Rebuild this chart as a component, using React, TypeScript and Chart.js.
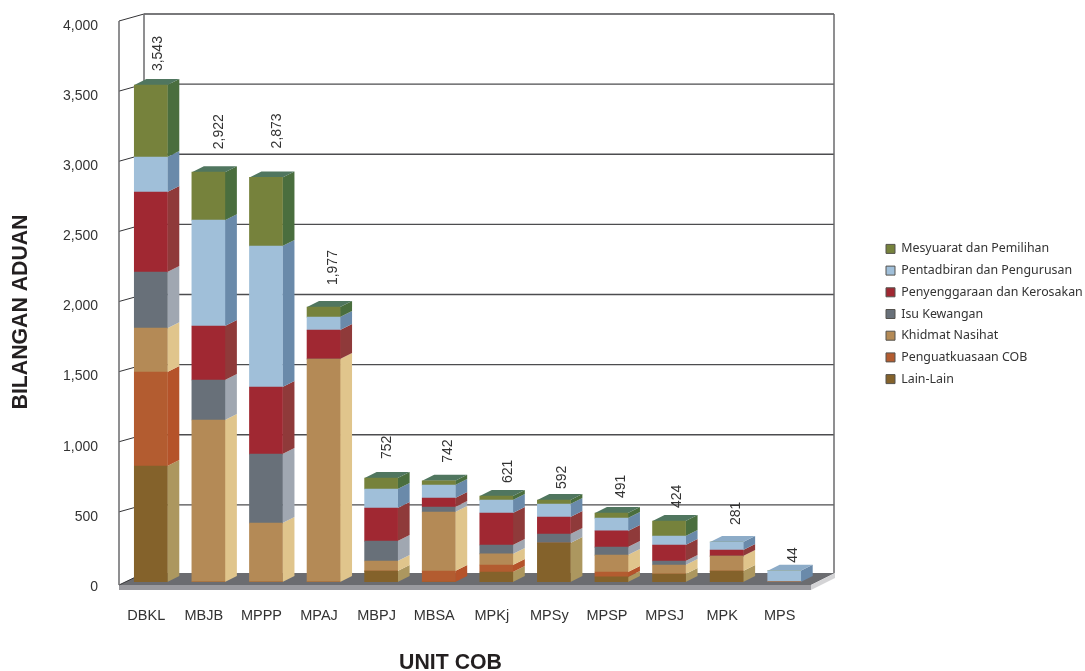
import React, { useEffect, useRef } from "react";
import { Chart, registerables } from "chart.js";

Chart.register(...registerables);

const categories = ["DBKL", "MBJB", "MPPP", "MPAJ", "MBPJ", "MBSA", "MPKj", "MPSy", "MPSP", "MPSJ", "MPK", "MPS"];
const totalLabels = ["3,543", "2,922", "2,873", "1,977", "752", "742", "621", "592", "491", "424", "281", "44"];

const lainLain = [827, 0, 0, 0, 78, 0, 71, 278, 36, 57, 78, 0];
const penguatkuasaan = [670, 0, 0, 0, 0, 78, 50, 0, 35, 0, 0, 0];
const khidmatNasihat = [313, 1155, 420, 1590, 72, 421, 79, 0, 121, 64, 107, 0];
const isuKewangan = [400, 285, 492, 0, 142, 36, 64, 64, 57, 29, 0, 0];
const penyenggaraan = [570, 385, 478, 206, 235, 64, 228, 121, 115, 114, 43, 0];
const pentadbiran = [250, 755, 1005, 93, 136, 92, 92, 93, 92, 64, 57, 80];
const mesyuarat = [513, 342, 490, 71, 78, 31, 29, 28, 36, 107, 0, 0];

// label placement relative to the top of each stack
const labelDx = [7.2, 10.6, 11, 9.5, 6, 9.3, 11.7, 8.1, 9.5, 8, 9.4, 8.8];
const labelLift = [14, 23, 29, 22, 19, 18, 13, 11, 15, 13, 17, 8];

const seriesStyles = [
  { label: "Lain-Lain", data: lainLain, front: "#84622b", side: "#ac975f", top: "#84622b" },
  { label: "Penguatkuasaan COB", data: penguatkuasaan, front: "#b35c30", side: "#b5532a", top: "#b35c30" },
  { label: "Khidmat Nasihat", data: khidmatNasihat, front: "#b48a56", side: "#e0c58c", top: "#b48a56" },
  { label: "Isu Kewangan", data: isuKewangan, front: "#687079", side: "#a0a7b1", top: "#687079" },
  { label: "Penyenggaraan dan Kerosakan", data: penyenggaraan, front: "#a02832", side: "#8f3a3a", top: "#a02832" },
  { label: "Pentadbiran dan Pengurusan", data: pentadbiran, front: "#a0bfd9", side: "#6a8aaa", top: "#8dacc8" },
  { label: "Mesyuarat dan Pemilihan", data: mesyuarat, front: "#76823c", side: "#4a6e3e", top: "#50765f" },
];

const DEPTH_X = 12;
const DEPTH_Y = 6;
const AREA_LEFT = 122;
const AREA_RIGHT = 813;
const AREA_TOP = 21;
const AREA_BOTTOM = 582;
const AXIS_X = 119;
const WALL_DX = 25;
const WALL_DY = 7;
const WALL_RIGHT = 834;
const FLOOR_BACK = 573;
const FLOOR_FRONT = 585;
const FLOOR_RIGHT = 811;
const FLOOR_THICK = 5;
const LEGEND_PAD = 9.3;
const TEXT = "#333333";
const SANS = "'Liberation Sans', Arial, sans-serif";

function poly(ctx: CanvasRenderingContext2D, pts: number[][], fill: string) {
  ctx.beginPath();
  pts.forEach((p, i) => (i ? ctx.lineTo(p[0], p[1]) : ctx.moveTo(p[0], p[1])));
  ctx.closePath();
  ctx.fillStyle = fill;
  ctx.fill();
}

const wallPlugin = {
  id: "wall",
  beforeDatasetsDraw(chart: any) {
    const { ctx, scales } = chart;
    const y = scales.y;
    ctx.save();
    // floor
    poly(ctx, [[AXIS_X, FLOOR_FRONT], [AXIS_X + WALL_DX, FLOOR_BACK], [WALL_RIGHT + 1, FLOOR_BACK], [FLOOR_RIGHT, FLOOR_FRONT]], "#6b6c70");
    poly(ctx, [[AXIS_X, FLOOR_FRONT], [FLOOR_RIGHT, FLOOR_FRONT], [FLOOR_RIGHT, FLOOR_FRONT + FLOOR_THICK], [AXIS_X, FLOOR_FRONT + FLOOR_THICK]], "#9a9a9f");
    poly(ctx, [[FLOOR_RIGHT, FLOOR_FRONT], [WALL_RIGHT + 1, FLOOR_BACK], [WALL_RIGHT + 1, FLOOR_BACK + FLOOR_THICK], [FLOOR_RIGHT, FLOOR_FRONT + FLOOR_THICK]], "#d4d4d6");
    // walls and grid
    const line = (a: number, b: number, c: number, d: number, color: string, width: number) => {
      ctx.strokeStyle = color;
      ctx.lineWidth = width;
      ctx.beginPath();
      ctx.moveTo(a, b);
      ctx.lineTo(c, d);
      ctx.stroke();
    };
    y.ticks.forEach((t: any) => {
      const py = y.getPixelForValue(t.value);
      if (t.value === 0) {
        line(AXIS_X, FLOOR_FRONT, AXIS_X + WALL_DX, FLOOR_BACK, "#333336", 1);
      } else {
        line(AXIS_X, py, AXIS_X + WALL_DX, py - WALL_DY, "#333336", 1);
        line(AXIS_X + WALL_DX, py - WALL_DY, WALL_RIGHT, py - WALL_DY, "#4d4d4f", 1.3);
      }
    });
    const top = y.getPixelForValue(y.max);
    line(AXIS_X, top, AXIS_X, FLOOR_FRONT, "#6a6a6c", 1.5);
    line(AXIS_X + WALL_DX, top - WALL_DY, AXIS_X + WALL_DX, FLOOR_BACK, "#6a6a6c", 1.5);
    line(WALL_RIGHT, top - WALL_DY, WALL_RIGHT, FLOOR_BACK, "#6a6a6c", 1.5);
    ctx.restore();
  },
};

function stackTops(chart: any) {
  const tops: { y: number; ds: number }[] = categories.map(() => ({ y: Infinity, ds: -1 }));
  seriesStyles.forEach((s, d) => {
    chart.getDatasetMeta(d).data.forEach((bar: any, i: number) => {
      if (s.data[i] > 0 && bar.y < tops[i].y) tops[i] = { y: bar.y, ds: d };
    });
  });
  return tops;
}

const depthPlugin = {
  id: "depth",
  beforeDatasetsDraw(chart: any) {
    const { ctx } = chart;
    ctx.save();
    seriesStyles.forEach((s, d) => {
      chart.getDatasetMeta(d).data.forEach((bar: any, i: number) => {
        if (!(s.data[i] > 0)) return;
        const r = bar.x + bar.width / 2;
        poly(ctx, [[r, bar.y], [r + DEPTH_X, bar.y - DEPTH_Y], [r + DEPTH_X, bar.base - DEPTH_Y], [r, bar.base]], s.side);
      });
    });
    stackTops(chart).forEach((t, i) => {
      if (t.ds < 0) return;
      const bar = chart.getDatasetMeta(t.ds).data[i];
      const l = bar.x - bar.width / 2;
      const r = bar.x + bar.width / 2;
      poly(ctx, [[l, t.y], [l + DEPTH_X, t.y - DEPTH_Y], [r + DEPTH_X, t.y - DEPTH_Y], [r, t.y]], seriesStyles[t.ds].top);
    });
    ctx.restore();
  },
  afterDatasetsDraw(chart: any) {
    const { ctx } = chart;
    ctx.save();
    ctx.fillStyle = TEXT;
    ctx.font = `14px ${SANS}`;
    ctx.textAlign = "left";
    ctx.textBaseline = "middle";
    stackTops(chart).forEach((t, i) => {
      if (t.ds < 0) return;
      const bar = chart.getDatasetMeta(t.ds).data[i];
      ctx.save();
      ctx.translate(bar.x + labelDx[i], t.y - labelLift[i]);
      ctx.rotate(-Math.PI / 2);
      ctx.fillText(totalLabels[i], 0, 0);
      ctx.restore();
    });
    ctx.restore();
  },
};

const titlesPlugin = {
  id: "axisTitles",
  afterLayout(chart: any) {
    const l = chart.legend;
    if (!l) return;
    l.left = 886 - LEGEND_PAD;
    l.right = 1085;
    l.top -= 32;
    l.bottom -= 32;
  },
  afterDraw(chart: any) {
    const { ctx } = chart;
    ctx.fillStyle = "#231f20";
    ctx.font = `bold 22.5px ${SANS}`;
    ctx.textAlign = "center";
    ctx.textBaseline = "middle";
    ctx.save();
    ctx.translate(450.5, 663);
    ctx.scale(0.945, 1);
    ctx.fillText("UNIT COB", 0, 0);
    ctx.restore();
    ctx.save();
    ctx.translate(21, 312);
    ctx.rotate(-Math.PI / 2);
    ctx.scale(0.945, 1);
    ctx.fillText("BILANGAN ADUAN", 0, 0);
    ctx.restore();
  },
};

export default function App() {
  const ref = useRef<HTMLCanvasElement>(null);
  useEffect(() => {
    const chart = new Chart(ref.current as HTMLCanvasElement, {
      type: "bar",
      data: {
        labels: categories,
        datasets: seriesStyles.map((s) => ({
          label: s.label,
          data: s.data,
          backgroundColor: s.front,
          borderWidth: 0,
          barThickness: 33,
          yAxisID: "y",
        })),
      },
      plugins: [wallPlugin, depthPlugin, titlesPlugin],
      options: {
        responsive: false,
        animation: false,
        devicePixelRatio: 1,
        layout: { padding: { top: AREA_TOP, left: 0, right: 0, bottom: 0 } },
        plugins: {
          tooltip: { enabled: false },
          title: { display: false },
          legend: {
            position: "right",
            reverse: true,
            labels: {
              boxWidth: 9,
              boxHeight: 9,
              padding: LEGEND_PAD,
              color: TEXT,
              font: { family: "'Noto Sans', sans-serif", size: 12.4 },
              generateLabels(chart: any) {
                return Chart.defaults.plugins.legend.labels.generateLabels(chart).map((it: any) => ({
                  ...it,
                  lineWidth: 1,
                  strokeStyle: "#55534e",
                }));
              },
            },
          },
        },
        scales: {
          x: {
            stacked: true,
            grid: { display: false, drawTicks: false },
            border: { display: false },
            ticks: {
              autoSkip: false,
              maxRotation: 0,
              padding: 25,
              labelOffset: -4.5,
              color: TEXT,
              font: { family: SANS, size: 14.5 },
            },
            afterFit(s: any) {
              s.height = 671 - AREA_BOTTOM;
              s.paddingLeft = 0;
              s.paddingRight = 0;
            },
          },
          y: {
            stacked: true,
            min: 0,
            max: 4000,
            grid: { display: false, drawTicks: false },
            border: { display: false },
            ticks: {
              stepSize: 500,
              padding: 24,
              labelOffset: 5,
              color: TEXT,
              font: { family: SANS, size: 14 },
              callback: (v: any) => Number(v).toLocaleString("en-US"),
            },
            afterFit(s: any) {
              s.width = AREA_LEFT;
              s.paddingTop = 0;
              s.paddingBottom = 0;
            },
          },
          y2: {
            position: "right",
            grid: { display: false, drawTicks: false },
            border: { display: false },
            ticks: { display: false },
            afterFit(s: any) {
              s.width = 1085 - AREA_RIGHT - (s.chart.legend ? s.chart.legend.width : 199);
              s.paddingTop = 0;
              s.paddingBottom = 0;
            },
          },
        },
      },
    } as any);
    return () => chart.destroy();
  }, []);
  return (
    <div style={{ position: "fixed", left: 0, top: 0, width: 1085, height: 671, background: "#ffffff" }}>
      <canvas ref={ref} width={1085} height={671} style={{ display: "block" }} />
    </div>
  );
}
